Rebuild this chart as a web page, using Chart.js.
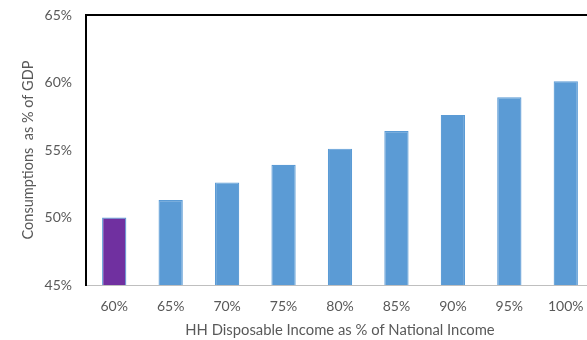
<!DOCTYPE html>
<html>
<head>
<meta charset="utf-8">
<script src="https://cdn.jsdelivr.net/npm/chart.js@4"></script>
<style>
  html, body { margin: 0; padding: 0; background: #fff; overflow: hidden; }
  #wrap { width: 587px; height: 340px; overflow: hidden; }
</style>
</head>
<body>
<div id="wrap"><canvas id="chart" width="600" height="340"></canvas></div>
<script>
// HH disposable income share vs. consumption share of GDP
const incomeLabels = ['60%', '65%', '70%', '75%', '80%', '85%', '90%', '95%', '100%'];
const consumption = [50.0, 51.3, 52.6, 53.9, 55.1, 56.4, 57.6, 58.9, 60.1];
const highlightIndex = 0;

const BLUE = '#5B9BD5';
const PURPLE = '#7030A0';
const TEXT = '#595959';
const FONT = 'Lato, "Liberation Sans", sans-serif';

// black frame line across the top of the plot
const topFrame = {
    id: 'topFrame',
    afterDraw(chart) {
        const { ctx, chartArea } = chart;
        ctx.save();
        ctx.strokeStyle = '#000';
        ctx.lineWidth = 2;
        ctx.beginPath();
        ctx.moveTo(chartArea.left - 1, chartArea.top);
        ctx.lineTo(chartArea.right, chartArea.top);
        ctx.stroke();
        ctx.restore();
    }
};

new Chart(document.getElementById('chart').getContext('2d'), {
    type: 'bar',
    data: {
        labels: incomeLabels,
        datasets: [{
            data: consumption,
            backgroundColor: consumption.map((v, i) => i === highlightIndex ? PURPLE : BLUE),
            borderColor: BLUE,
            borderWidth: 1.2,
            categoryPercentage: 1,
            barPercentage: 0.43
        }]
    },
    options: {
        responsive: false,
        animation: false,
        layout: { padding: { top: 15, right: 6, left: 0, bottom: 0 } },
        plugins: {
            legend: { display: false },
            tooltip: { enabled: false }
        },
        scales: {
            x: {
                grid: { display: false, drawTicks: false },
                border: { color: '#BFBFBF', width: 1 },
                ticks: { color: TEXT, font: { family: FONT, size: 14 }, padding: 13 },
                title: {
                    display: true,
                    text: 'HH Disposable Income as % of National Income',
                    color: TEXT,
                    font: { family: FONT, size: 14.8 },
                    padding: { top: 0, bottom: 1 }
                },
                afterFit: s => { s.height = 55; }
            },
            y: {
                min: 45,
                max: 65,
                // hidden tick marks keep the labels clear of the axis line
                grid: { display: false, drawTicks: true, tickLength: 12 },
                border: { color: '#000', width: 2 },
                ticks: {
                    stepSize: 5,
                    color: TEXT,
                    font: { family: FONT, size: 14 },
                    padding: 2,
                    callback: v => v + '%'
                },
                title: {
                    display: true,
                    text: 'Consumptions  as % of GDP',
                    color: TEXT,
                    font: { family: FONT, size: 14.5 },
                    padding: { top: 20, bottom: 0 }
                },
                afterFit: s => { s.width = 86; }
            }
        }
    },
    plugins: [topFrame]
});
</script>
</body>
</html>
